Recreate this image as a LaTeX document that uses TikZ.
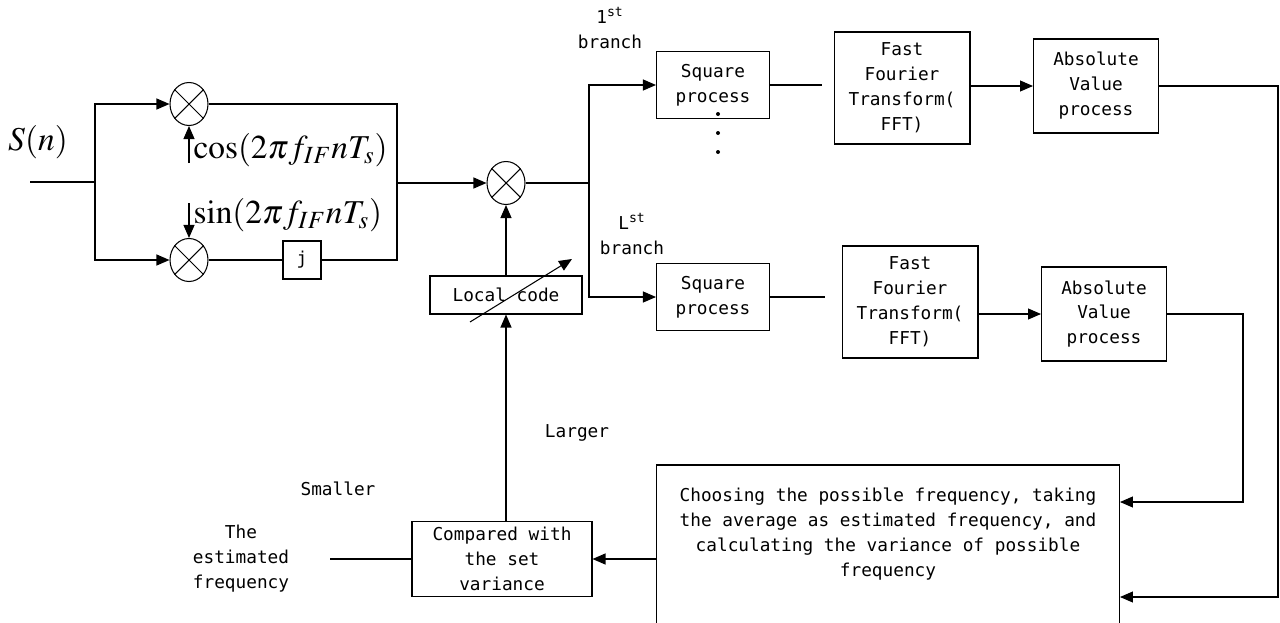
\documentclass[tikz,border=0pt]{standalone}
\usepackage{mathptmx}
\usepackage[no-math]{fontspec}
\usepackage{amsmath}
\usepackage{tikz}
\usetikzlibrary{arrows.meta,shapes.geometric,calc}
\newfontfamily\boxfont{DejaVu Sans Mono}

\begin{document}
\begin{tikzpicture}[x=0.02cm, y=-0.02cm, line width=0.6pt,
        font=\boxfont\fontsize{10.1}{14.2}\selectfont]
        \tikzset{
            block/.style={draw, rectangle, align=center, inner sep=0pt},
            mixer/.style={draw, ellipse, minimum width=0.76cm, minimum height=0.86cm, inner sep=0pt},
            flow/.style={-{Triangle[length=0.26cm, width=0.22cm]}},
            bigmath/.style={inner sep=0pt, font=\fontsize{19}{22}\selectfont}
        }
        \useasboundingbox (0,0) rectangle (1280,622);
        \clip (0,0) rectangle (1280,622);

        % Nodes
        \node (mix_cos) [mixer] at (189,104) {};
        \node (mix_sin) [mixer] at (189,260) {};
        \node (j_box) [block, minimum size=0.76cm] at (302,260) {j};
        \node (mix_code) [mixer] at (506,183) {};
        \node (local) [block, minimum width=3.04cm, minimum height=0.76cm] at (506,295) {Local code};
        \node (sq1) [block, minimum width=2.26cm, minimum height=1.34cm] at (713,85) {Square\\process};
        \node (sq2) [block, minimum width=2.26cm, minimum height=1.34cm] at (713,297) {Square\\process};
        \node (fft1) [block, minimum width=2.72cm, minimum height=2.24cm] at (902,88) {Fast\\Fourier\\Transform(\\FFT)};
        \node (fft2) [block, minimum width=2.72cm, minimum height=2.24cm] at (910,302) {Fast\\Fourier\\Transform(\\FFT)};
        \node (abs1) [block, minimum width=2.5cm, minimum height=1.88cm] at (1096,86) {Absolute\\Value\\process};
        \node (abs2) [block, minimum width=2.5cm, minimum height=1.88cm] at (1104,314) {Absolute\\Value\\process};
        \node (choose_box) [block, minimum width=9.26cm, minimum height=3.6cm] at (888,555) {};
        \node (choose) [align=center] at (888,534) {Choosing the possible frequency, taking\\the average as estimated frequency, and\\calculating the variance of possible\\frequency};
        \node (compare) [block, minimum width=3.6cm, minimum height=1.5cm] at (502,559) {Compared with\\the set\\variance};
        \node (estimate) [align=center] at (241,559) {The\\estimated\\frequency};

        % Labels
        \node (s_n) [bigmath] at (38,142) {$S(n)$};
        \node (cos_lbl) [bigmath, anchor=west] at (193,150) {$\cos(2\pi f_{IF}nT_s)$};
        \node (sin_lbl) [bigmath, anchor=west] at (193,215) {$\sin(2\pi f_{IF}nT_s)$};
        \node (first) [align=center] at (610,28) {1\textsuperscript{st}\\branch};
        \node (last) [align=center] at (632,234) {L\textsuperscript{st}\\branch};
        \node (larger) at (577,433) {Larger};
        \node (smaller) at (338,489) {Smaller};

        % Points
        \coordinate (in) at (30,182);
        \coordinate (split) at (95,182);
        \coordinate (merge) at (397,183);
        \coordinate (fork) at (589,183);
        \coordinate (cos_src) at (189,163);
        \coordinate (sin_src) at (189,203);
        \coordinate (tune_a) at (470,322);
        \coordinate (tune_b) at (572,259);
        \coordinate (gap1) at (822,85);
        \coordinate (gap2) at (825,297);
        \coordinate (rail1) at (1278,597);
        \coordinate (rail2) at (1243,502);
        \coordinate (out) at (330,559);

        % Mixer crosses
        \foreach \m in {mix_cos, mix_sin, mix_code}
            \draw (\m.45) -- (\m.225) (\m.135) -- (\m.315);

        % Branch dots
        \foreach \y in {114,133,152}
            \fill (718,\y) circle (2);

        % Arrows
        \draw (in) -- (split);
        \draw [flow] (split) |- (mix_cos.west);
        \draw [flow] (split) |- (mix_sin.west);
        \draw [flow] (cos_src) -- (mix_cos.south);
        \draw [flow] (sin_src) -- (mix_sin.north);
        \draw (mix_sin.east) -- (j_box.west);
        \draw (mix_cos.east) -| (merge) |- (j_box.east);
        \draw [flow] (merge) -- (mix_code.west);
        \draw [flow] (local.north) -- (mix_code.south);
        \draw [flow] (tune_a) -- (tune_b);
        \draw (mix_code.east) -- (fork);
        \draw [flow] (fork) |- (sq1.west);
        \draw [flow] (fork) |- (sq2.west);
        \draw (sq1.east) -- (gap1);
        \draw (sq2.east) -- (gap2);
        \draw [flow] (fft1.east |- abs1.west) -- (abs1.west);
        \draw [flow] (fft2.east |- abs2.west) -- (abs2.west);
        \draw [flow] (abs1.east) -| (rail1) -- (rail1 -| choose_box.east);
        \draw [flow] (abs2.east) -| (rail2) -- (rail2 -| choose_box.east);
        \draw [flow] (choose_box.west |- compare.east) -- (compare.east);
        \draw (compare.west) -- (out);
        \draw [flow] (compare.north -| local.south) -- (local.south);
\end{tikzpicture}
\end{document}
